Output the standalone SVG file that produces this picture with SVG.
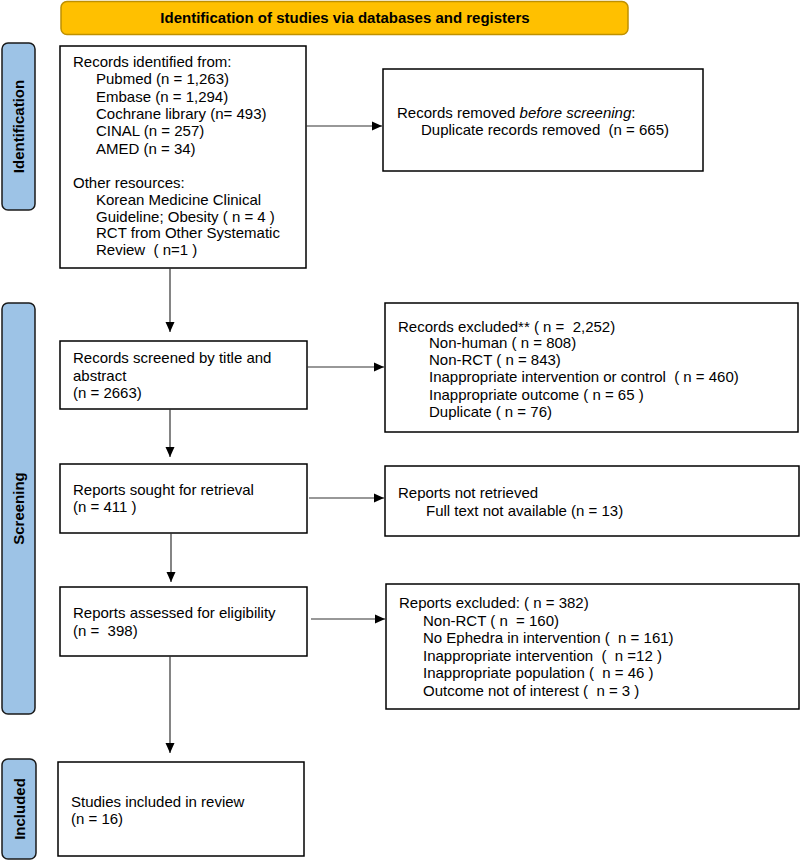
<svg xmlns="http://www.w3.org/2000/svg" width="800" height="860" viewBox="0 0 800 860">
<style>
  text { font-family: "Liberation Sans", Arial, sans-serif; font-size: 15px; fill: #000; white-space: pre; }
  .box { fill: #fff; stroke: #000; stroke-width: 1.5; }
  .side { fill: #9DC3E6; stroke: #1a1a1a; stroke-width: 1.5; }
  .bold { font-weight: bold; }
  .conn { stroke: #333; stroke-width: 1.2; fill: none; marker-end: url(#arrow); }
</style>
<defs>
  <marker id="arrow" markerUnits="userSpaceOnUse" markerWidth="10" markerHeight="10" refX="10" refY="5" orient="auto">
    <path d="M0,0.5 L10,5 L0,9.5 z" fill="#000"/>
  </marker>
</defs>

<g id="banner">
  <rect x="61" y="1.5" width="567" height="33" rx="6" fill="#FFC000" stroke="#BF9000" stroke-width="1.5"/>
  <text x="345" y="23" text-anchor="middle" class="bold">Identification of studies via databases and registers</text>
</g>

<g id="side-identification">
  <rect class="side" x="2" y="43" width="33" height="167" rx="6"/>
  <text class="bold" text-anchor="middle" transform="translate(24,126.5) rotate(-90)">Identification</text>
</g>
<g id="side-screening">
  <rect class="side" x="2" y="303" width="33" height="411" rx="6"/>
  <text class="bold" text-anchor="middle" transform="translate(24,508.5) rotate(-90)">Screening</text>
</g>
<g id="side-included">
  <rect class="side" x="2" y="759" width="34" height="100" rx="6"/>
  <text class="bold" text-anchor="middle" transform="translate(24.5,809) rotate(-90)">Included</text>
</g>

<g id="records-identified">
  <rect class="box" x="60" y="46" width="246" height="222"/>
  <text x="73" y="67">Records identified from:</text>
  <text x="96" y="84.3">Pubmed (n = 1,263)</text>
  <text x="96" y="101.6">Embase (n = 1,294)</text>
  <text x="96" y="118.9">Cochrane library (n= 493)</text>
  <text x="96" y="136.2">CINAL (n = 257)</text>
  <text x="96" y="153.5">AMED (n = 34)</text>
  <text x="73" y="188">Other resources:</text>
  <text x="96" y="204.5">Korean Medicine Clinical</text>
  <text x="96" y="221.5">Guideline; Obesity ( n = 4 )</text>
  <text x="96" y="238">RCT from Other Systematic</text>
  <text x="96" y="255">Review  ( n=1 )</text>
</g>

<g id="records-removed">
  <rect class="box" x="383" y="69" width="320" height="102"/>
  <text x="397" y="118">Records removed <tspan font-style="italic">before screening</tspan>:</text>
  <text x="421" y="135">Duplicate records removed  (n = 665)</text>
</g>

<g id="records-screened">
  <rect class="box" x="60" y="341" width="247" height="68"/>
  <text x="73" y="363">Records screened by title and</text>
  <text x="73" y="381">abstract</text>
  <text x="73" y="398">(n = 2663)</text>
</g>

<g id="records-excluded">
  <rect class="box" x="385" y="303" width="413" height="129"/>
  <text x="398" y="332">Records excluded** ( n =  2,252)</text>
  <text x="429" y="348">Non-human ( n = 808)</text>
  <text x="429" y="364.5">Non-RCT ( n = 843)</text>
  <text x="429" y="382">Inappropriate intervention or control  ( n = 460)</text>
  <text x="429" y="399.5">Inappropriate outcome ( n = 65 )</text>
  <text x="429" y="416.5">Duplicate ( n = 76)</text>
</g>

<g id="reports-sought">
  <rect class="box" x="60" y="464" width="247" height="69"/>
  <text x="73" y="495">Reports sought for retrieval</text>
  <text x="73" y="512">(n = 411 )</text>
</g>

<g id="reports-not-retrieved">
  <rect class="box" x="385" y="466" width="414" height="70"/>
  <text x="398" y="498">Reports not retrieved</text>
  <text x="426" y="516">Full text not available (n = 13)</text>
</g>

<g id="reports-assessed">
  <rect class="box" x="60" y="587" width="247" height="69"/>
  <text x="73" y="618">Reports assessed for eligibility</text>
  <text x="73" y="636">(n =  398)</text>
</g>

<g id="reports-excluded">
  <rect class="box" x="386" y="584" width="413" height="125"/>
  <text x="399" y="608">Reports excluded: ( n = 382)</text>
  <text x="423" y="625.5">Non-RCT ( n  = 160)</text>
  <text x="423" y="643">No Ephedra in intervention (  n = 161)</text>
  <text x="423" y="660.5">Inappropriate intervention  (  n =12 )</text>
  <text x="423" y="678">Inappropriate population (  n = 46 )</text>
  <text x="423" y="695.5">Outcome not of interest (  n = 3 )</text>
</g>

<g id="studies-included">
  <rect class="box" x="58" y="762" width="246" height="94"/>
  <text x="71" y="807">Studies included in review</text>
  <text x="71" y="824">(n = 16)</text>
</g>

<g id="connectors">
  <line class="conn" x1="306" y1="126" x2="382" y2="126"/>
  <line class="conn" x1="170" y1="268" x2="170" y2="332"/>
  <line class="conn" x1="307" y1="367" x2="384" y2="367"/>
  <line class="conn" x1="170" y1="409" x2="170" y2="457"/>
  <line class="conn" x1="309" y1="498" x2="384" y2="498"/>
  <line class="conn" x1="171" y1="533" x2="171" y2="582"/>
  <line class="conn" x1="311" y1="619" x2="385" y2="619"/>
  <line class="conn" x1="170" y1="656" x2="170" y2="753"/>
</g>
</svg>
